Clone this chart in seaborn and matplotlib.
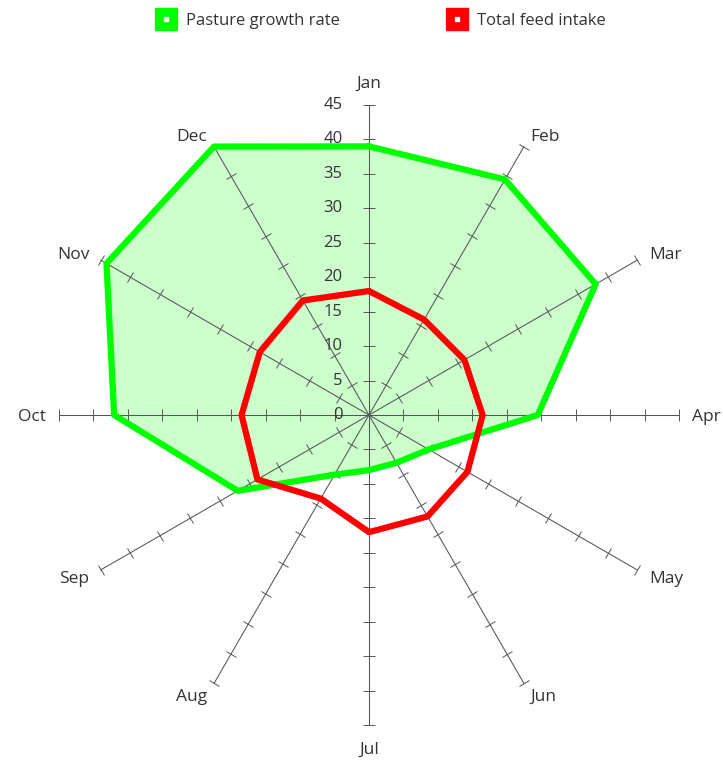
import numpy as np
import pandas as pd
import matplotlib
matplotlib.use("Agg")
import matplotlib.pyplot as plt
import seaborn as sns
from matplotlib.markers import MarkerStyle
from matplotlib.transforms import Affine2D
from matplotlib.lines import Line2D
from matplotlib.legend_handler import HandlerTuple

months = ["Jan", "Feb", "Mar", "Apr", "May", "Jun", "Jul", "Aug", "Sep", "Oct", "Nov", "Dec"]
pasture_growth = [39, 39.5, 38, 24.5, 10, 8, 8, 10, 22, 37, 44, 45]
feed_intake = [18, 16, 16, 16.5, 16.5, 17, 17, 14, 18.7, 18.5, 18.3, 19.2]
radial_ticks = [0, 5, 10, 15, 20, 25, 30, 35, 40, 45]
series_names = ["Pasture growth rate", "Total feed intake"]
colors = {"Pasture growth rate": "#00ff00", "Total feed intake": "#ff0000"}

sns.set_theme(style="white")
plt.rcParams["font.family"] = ["Open Sans", "DejaVu Sans"]

n = len(months)
theta = [2 * np.pi * i / n for i in range(n)]

rows = []
for name, vals in zip(series_names, [pasture_growth, feed_intake]):
    for i in range(n + 1):
        rows.append({"series": name, "theta": 2 * np.pi * i / n, "value": vals[i % n]})
df = pd.DataFrame(rows)

fig = plt.figure(figsize=(7.23, 7.60), dpi=100)
ax = fig.add_axes([0.0816, 0.046, 0.8575, 0.8158], projection="polar")
ax.set_theta_zero_location("N")
ax.set_theta_direction(-1)
rmax = radial_ticks[-1]
ax.set_ylim(0, rmax)
ax.grid(False)
ax.spines["polar"].set_visible(False)
ax.set_xticks([])
ax.set_yticks([])
ax.patch.set_alpha(0)

txt_color = "#333333"
# spokes with tick marks
for i, t in enumerate(theta):
    ax.plot([t, t], [0, rmax], color="#555555", lw=0.75, zorder=3, clip_on=False)
    ms = MarkerStyle("_", transform=Affine2D().rotate_deg(-np.degrees(t)))
    ax.plot([t] * (len(radial_ticks) - 1), radial_ticks[1:], ls="", marker=ms,
            ms=8, mew=0.7, color="#555555", zorder=3, clip_on=False)
    s = np.sin(t)
    off = 1.9
    if s > 0.01:
        ha, va = "left", "center_baseline"
    elif s < -0.01:
        ha, va = "right", "center_baseline"
    else:
        ha = "center"
        if np.cos(t) > 0:
            va = "bottom"
        else:
            va, off = "top", 2.5
    ax.text(t, rmax + off, months[i], ha=ha, va=va, fontsize=12.5,
            color=txt_color, clip_on=False)

# radial labels along Jan axis
for r in radial_ticks:
    ax.annotate(str(r), xy=(0, r), xytext=(-19, 0), textcoords="offset points",
                ha="right", va="center", fontsize=12, color=txt_color, zorder=4)

# pasture fill
pg = df[df.series == "Pasture growth rate"]
ax.fill(pg["theta"], pg["value"], color="#ccffcc", zorder=1, lw=0, clip_on=False)

sns.lineplot(data=df, x="theta", y="value", hue="series", palette=colors,
             sort=False, estimator=None, lw=4.5, legend=False, ax=ax, zorder=5,
             clip_on=False)
ax.set_xlabel("")
ax.set_ylabel("")
ax.set_ylim(0, rmax)

handles = []
for name in series_names:
    big = Line2D([], [], ls="", marker="s", ms=16, color=colors[name])
    dot = Line2D([], [], ls="", marker="s", ms=2.5, color="white")
    handles.append((big, dot))
fig.legend(handles, series_names, loc="center", bbox_to_anchor=(0.522, 0.973),
           ncol=2, frameon=False, fontsize=12, columnspacing=6.0, handletextpad=0.2,
           handler_map={tuple: HandlerTuple(ndivide=1)}, labelcolor=txt_color)

fig.savefig("out.png", dpi=100)
